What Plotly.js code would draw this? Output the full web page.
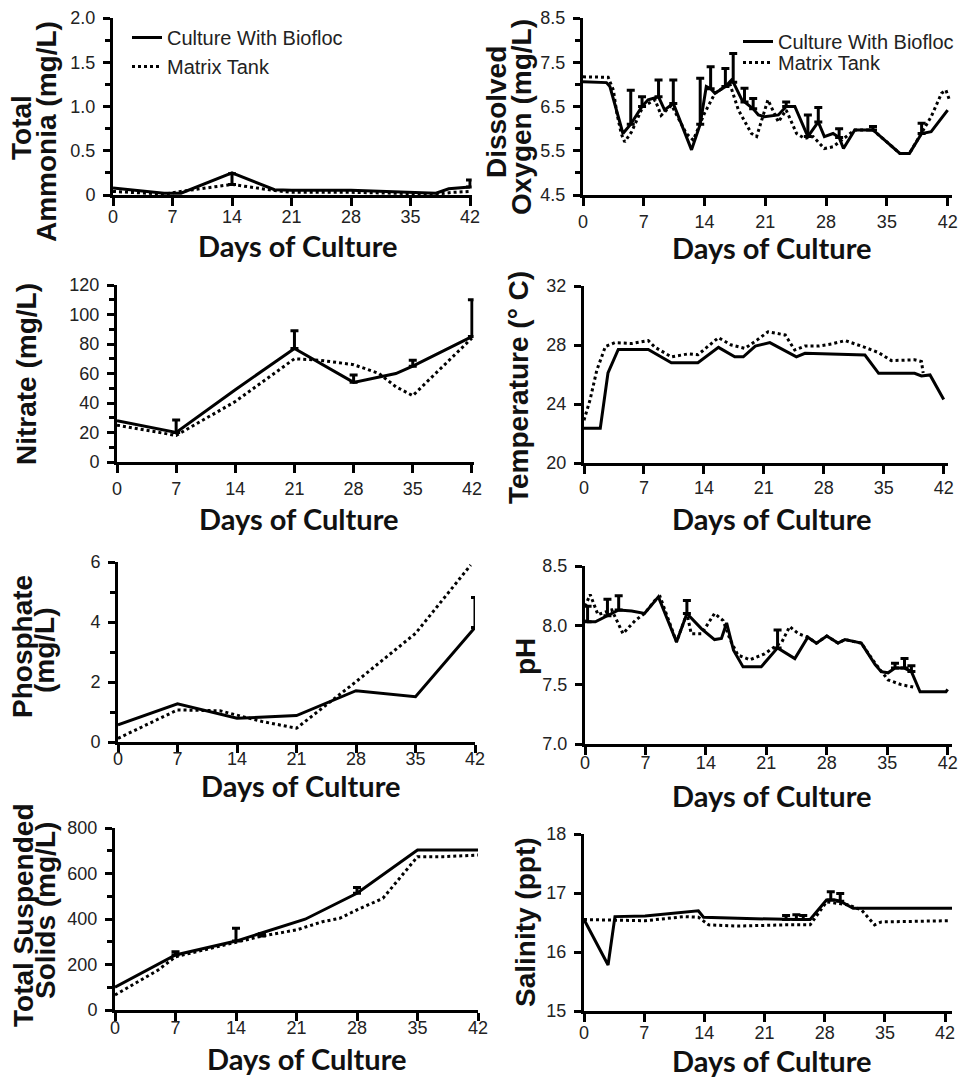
<!DOCTYPE html>
<html>
<head>
<meta charset="utf-8">
<script src="https://cdn.plot.ly/plotly-3.0.1.min.js"></script>
<style>html,body{margin:0;padding:0;background:#fff;}#chart{width:969px;height:1081px;}</style>
</head>
<body>
<div id="chart"></div>
<script>
const N = NaN;
const seriesNames = ["Culture With Biofloc", "Matrix Tank"];
const xTitle = "Days of Culture";
const dayTicks = [0, 7, 14, 21, 28, 35, 42];

// ---- Total Ammonia (mg/L)
const ammBioX = [0, 6, 8, 14, 19, 21, 28, 38, 39.5, 42];
const ammBioY = [0.08, 0.02, 0.02, 0.25, 0.06, 0.055, 0.055, 0.02, 0.07, 0.09];
const ammBioErr = [N, N, N, N, N, N, N, N, N, 0.08];
const ammMatX = [0, 6, 8, 14, 19, 21, 28, 38, 40, 42];
const ammMatY = [0.04, 0.01, 0.04, 0.12, 0.05, 0.03, 0.03, 0.01, 0.03, 0.04];
const ammMatErr = [N, N, N, 0.12, N, N, N, N, N, N];
const ammTicks = [0, 0.5, 1.0, 1.5, 2.0];
const ammTickText = ["0", "0.5", "1.0", "1.5", "2.0"];

// ---- Dissolved Oxygen (mg/L)
const doBioX = [0, 2.7, 3.1, 4.6, 5.5, 6.4, 6.8, 7.5, 8.7, 9.4, 10.4, 12.5, 13.5, 14.2, 14.7, 15.2, 16.4, 17.1, 17.3, 18.3, 18.6, 19.6, 20.2, 20.9, 22.5, 23.4, 24.4, 25.9, 27.1, 27.8, 28.8, 29.5, 30, 31.3, 33.4, 36.5, 37.6, 39, 40.1, 42];
const doBioY = [7.06, 7.04, 6.95, 5.89, 6.1, 6.38, 6.5, 6.65, 6.72, 6.42, 6.57, 5.52, 6.1, 6.95, 6.9, 6.8, 6.95, 7.1, 7.05, 6.65, 6.6, 6.45, 6.31, 6.27, 6.31, 6.5, 6.5, 5.82, 6.15, 5.82, 5.89, 5.8, 5.55, 5.97, 5.97, 5.44, 5.44, 5.89, 5.93, 6.42];
const doBioErr = [N, N, N, N, 0.77, N, 0.22, N, 0.38, N, 0.53, N, 1.04, N, 0.5, N, 0.41, N, 0.65, N, 0.31, 0.23, N, N, N, 0.1, N, 0.49, 0.33, N, N, 0.2, N, N, 0.08, N, N, 0.23, N, N];
const doMatX = [0, 2.9, 3.5, 3.9, 4.4, 4.8, 5.6, 6.9, 8.3, 9.0, 10.2, 11.9, 12.7, 14, 15.2, 16.9, 17.9, 19.4, 20, 21.3, 22.5, 23.4, 24.6, 25.5, 26.5, 27.8, 28.8, 29.8, 31.3, 33.4, 36.5, 37.6, 39, 40.1, 41.3, 41.8, 42.2];
const doMatY = [7.17, 7.16, 6.87, 6.35, 5.89, 5.7, 5.93, 6.5, 6.65, 6.3, 6.53, 5.89, 5.74, 6.35, 6.8, 7.02, 6.42, 5.89, 5.82, 6.65, 6.15, 6.42, 5.89, 5.78, 5.82, 5.55, 5.59, 5.74, 5.97, 5.97, 5.44, 5.44, 5.89, 6.27, 6.8, 6.87, 6.65];

// ---- Nitrate (mg/L)
const nitBioX = [0, 7, 14, 21, 28, 33, 35, 42];
const nitBioY = [28, 20, 49, 77, 54, 60, 65, 85];
const nitBioErr = [N, 8.5, N, 12, 5, N, 4, 25];
const nitMatX = [0, 3, 7, 14, 21, 24, 28, 31, 33, 35, 38, 42];
const nitMatY = [25, 22, 18, 41, 70, 69, 66, 60, 51, 45, 62, 84];

// ---- Temperature (° C)
const tmpBioX = [0, 1.9, 2.8, 4.0, 7.5, 10.2, 13.3, 15.7, 17.6, 18.6, 20, 21.7, 24.8, 25.8, 32.8, 34.4, 38.6, 39.4, 40.4, 42];
const tmpBioY = [22.35, 22.35, 26.1, 27.7, 27.7, 26.8, 26.8, 27.84, 27.2, 27.2, 27.93, 28.16, 27.2, 27.44, 27.32, 26.08, 26.08, 25.9, 25.97, 24.3];
const tmpMatX = [0, 0.7, 1.5, 2.5, 3.6, 5.6, 7.5, 8.3, 10.2, 12.2, 13.3, 15.7, 17.2, 18.8, 20.3, 21.5, 23.5, 24.6, 25.8, 27.4, 28.9, 30.5, 32.8, 34.4, 35.9, 38.6, 39.4, 39.6];
const tmpMatY = [22.9, 24.27, 26.3, 27.9, 28.16, 28.1, 28.3, 27.84, 27.2, 27.4, 27.34, 28.5, 28.0, 27.77, 28.38, 28.9, 28.68, 27.66, 27.93, 27.93, 28.07, 28.3, 27.84, 27.48, 26.94, 27.0, 26.88, 26.1];

// ---- Phosphate (mg/L)
const phoBioX = [0, 7, 14, 21, 28, 35, 42];
const phoBioY = [0.57, 1.27, 0.79, 0.88, 1.71, 1.51, 3.82];
const phoBioErr = [N, N, N, N, N, N, 1.0];
const phoMatX = [0, 7, 12, 14, 17, 21, 24, 28, 35, 41.5];
const phoMatY = [0.12, 1.07, 1.04, 0.9, 0.68, 0.46, 1.12, 2.01, 3.62, 5.9];

// ---- pH
const phBioX = [0, 0.3, 1.2, 2.6, 3.9, 5.4, 6.9, 8.5, 10.6, 11.8, 13.5, 15, 15.8, 16.4, 17.2, 18.3, 20.4, 22.3, 24.3, 25.8, 26.8, 28, 29.3, 30.1, 32, 33.6, 34.3, 35.1, 35.9, 37, 37.8, 38.8, 41.8, 42];
const phBioY = [8.04, 8.03, 8.03, 8.08, 8.13, 8.12, 8.1, 8.24, 7.86, 8.1, 7.97, 7.88, 7.89, 8.02, 7.79, 7.65, 7.65, 7.81, 7.72, 7.9, 7.85, 7.91, 7.85, 7.88, 7.85, 7.67, 7.61, 7.6, 7.64, 7.64, 7.61, 7.44, 7.44, 7.46];
const phBioErr = [N, 0.13, N, 0.14, 0.12, N, N, N, N, 0.11, N, N, N, N, N, N, N, 0.15, N, N, N, N, N, N, N, N, N, N, 0.04, 0.08, 0.05, N, N, N];
const phMatX = [0, 0.6, 1.5, 3.1, 4.4, 5.8, 6.9, 8.1, 8.7, 10.6, 11.8, 12.3, 13.5, 15, 16, 16.8, 17.7, 19.1, 20.8, 22.8, 23.7, 24.7, 25.8, 26.8, 28, 29.3, 30.1, 32, 33.6, 35.1, 36.6, 38];
const phMatY = [8.16, 8.26, 8.09, 8.13, 7.93, 8.04, 8.1, 8.21, 8.24, 7.86, 8.1, 7.93, 7.93, 8.1, 8.04, 7.88, 7.75, 7.71, 7.76, 7.86, 7.99, 7.93, 7.9, 7.85, 7.91, 7.85, 7.88, 7.85, 7.68, 7.54, 7.5, 7.48];

// ---- Total Suspended Solids (mg/L)
const tssBioX = [0, 7, 14, 22, 28, 35, 42];
const tssBioY = [100, 242, 303, 399, 513, 703, 703];
const tssBioErr = [N, 14, 56, N, 26, N, N];
const tssMatX = [0, 5, 7, 14, 17, 21, 24, 26, 28, 31, 35, 38, 42];
const tssMatY = [66, 176, 234, 300, 325, 352, 388, 403, 440, 491, 674, 674, 681];
const tssMatErr = [N, N, N, N, 10, N, N, N, N, N, N, N, N];

// ---- Salinity (ppt)
const salBioX = [0, 2.8, 3.6, 7.1, 13.3, 13.9, 17.9, 22.2, 23.5, 24.7, 25.5, 26.3, 28.2, 28.7, 29.2, 29.8, 31.3, 42.8];
const salBioY = [16.55, 15.78, 16.6, 16.61, 16.7, 16.59, 16.57, 16.55, 16.55, 16.55, 16.55, 16.55, 16.88, 16.88, 16.88, 16.86, 16.74, 16.74];
const salBioErr = [N, N, N, N, N, N, N, N, 0.07, 0.08, 0.07, N, N, 0.14, N, 0.13, N, N];
const salMatX = [0, 3.6, 7.1, 11.7, 13.3, 14.5, 17.9, 23.4, 26.3, 28.2, 30.7, 32.3, 33.8, 34.6, 42.4];
const salMatY = [16.55, 16.54, 16.53, 16.6, 16.59, 16.46, 16.44, 16.46, 16.46, 16.85, 16.8, 16.71, 16.46, 16.51, 16.53];

// ---- y-axis titles (one entry per line)
const yTitles = [
  ["Total", "Ammonia (mg/L)"],
  ["Dissolved", "Oxygen (mg/L)"],
  ["Nitrate (mg/L)"],
  ["Temperature (° C)"],
  ["Phosphate", "(mg/L)"],
  ["pH"],
  ["Total Suspended", "Solids (mg/L)"],
  ["Salinity (ppt)"]
];

// ================= layout geometry (pixels) =================
const W = 969, H = 1081;
const panels = [
  {x0:113, x1:471.7, yt:18,  yb:195, xr:[0,42.2], yr:[0,2],     t0:0,   dt:0.5, mn:0.25, so:-5,  yl:[{x:22,y:128},{x:46,y:132}], xt:{x:298,y:246}},
  {x0:583, x1:952,   yt:18,  yb:195, xr:[0,42.5], yr:[4.5,8.5], t0:4.5, dt:1,   mn:0.5,  so:0,   yl:[{x:497,y:112},{x:522,y:117}], xt:{x:772,y:247}},
  {x0:117, x1:473.6, yt:285, yb:462, xr:[0,42.2], yr:[0,120],   t0:0,   dt:20,  mn:10,   so:0,   yl:[{x:27,y:374}], xt:{x:299,y:518}},
  {x0:584, x1:948,   yt:286, yb:463, xr:[0,42.5], yr:[20,32],   t0:20,  dt:4,   mn:null, so:-2,  yl:[{x:518,y:388}], xt:{x:772,y:518}},
  {x0:118, x1:475,   yt:562, yb:742, xr:[0,42],   yr:[0,6],     t0:0,   dt:2,   mn:1,    so:-10, yl:[{x:22,y:647},{x:44,y:650}], xt:{x:301,y:785}},
  {x0:585, x1:952,   yt:566, yb:744, xr:[0,42.5], yr:[7,8.5],   t0:7,   dt:0.5, mn:null, so:-8,  yl:[{x:525,y:657}], xt:{x:772,y:795}},
  {x0:115, x1:478,   yt:828, yb:1010,xr:[0,42],   yr:[0,800],   t0:0,   dt:200, mn:100,  so:-9,  yl:[{x:23,y:915},{x:45,y:911}], xt:{x:307,y:1058}},
  {x0:584, x1:952,   yt:834, yb:1011,xr:[0,42.8], yr:[15,18],   t0:15,  dt:1,   mn:null, so:-5,  yl:[{x:525,y:922}], xt:{x:772,y:1060}}
];

const tickFont = {family:"Liberation Sans, Arial, sans-serif", size:18, color:"#222"};
const legFont = {family:"Liberation Sans, Arial, sans-serif", size:20, color:"#222"};
const layout = {
  width: W, height: H, margin:{l:0,r:0,t:0,b:0},
  paper_bgcolor:"#fff", plot_bgcolor:"rgba(0,0,0,0)",
  showlegend: true,
  legend:  {x:127/W, y:1-18/H, xanchor:"left", yanchor:"top", bgcolor:"rgba(0,0,0,0)", borderwidth:0, font:legFont, traceorder:"reversed"},
  legend2: {x:738/W, y:1-22/H, xanchor:"left", yanchor:"top", bgcolor:"rgba(0,0,0,0)", borderwidth:0, font:legFont},
  legend3: {x:738/W, y:1-43/H, xanchor:"left", yanchor:"top", bgcolor:"rgba(0,0,0,0)", borderwidth:0, font:legFont},
  annotations: []
};

panels.forEach((p, i) => {
  const k = i === 0 ? "" : String(i + 1);
  const xa = {
    domain:[p.x0/W, p.x1/W], range:p.xr, anchor:"y"+k,
    tickmode:"array", tickvals:dayTicks, ticktext:dayTicks.map(String),
    ticks:"outside", ticklen:8, tickwidth:3, tickcolor:"#000",
    showline:true, linewidth:3, linecolor:"#000",
    showgrid:false, zeroline:false, tickfont:tickFont, ticklabelstandoff:p.so
  };
  const ya = {
    domain:[1-p.yb/H, 1-p.yt/H], range:p.yr, anchor:"x"+k,
    tickmode:"linear", tick0:p.t0, dtick:p.dt,
    ticks:"outside", ticklen:7, tickwidth:3, tickcolor:"#000",
    showline:true, linewidth:3, linecolor:"#000",
    showgrid:false, zeroline:false, tickfont:tickFont, ticklabelstandoff:4
  };
  if (i === 0) { ya.tickmode = "array"; ya.tickvals = ammTicks; ya.ticktext = ammTickText; }
  if (i === 1 || i === 5) ya.tickformat = ".1f";
  if (p.mn) ya.minor = {dtick:p.mn, tick0:p.t0, ticks:"outside", ticklen:5, tickwidth:3, tickcolor:"#000", showgrid:false};
  layout["xaxis"+k] = xa;
  layout["yaxis"+k] = ya;

  p.yl.forEach((pos, j) => {
    layout.annotations.push({
      xref:"paper", yref:"paper", x:pos.x/W, y:1-pos.y/H, xanchor:"center", yanchor:"middle",
      text:yTitles[i][j], textangle:-90, showarrow:false,
      font:{family:"Liberation Sans, Arial, sans-serif", size:28, color:"#111", weight:"bold"}
    });
  });
  layout.annotations.push({
    xref:"paper", yref:"paper", x:p.xt.x/W, y:1-p.xt.y/H, xanchor:"center", yanchor:"middle",
    text:xTitle, showarrow:false,
    font:{family:"Lato, sans-serif", size:29, color:"#111", weight:"bold"}
  });
});

function errObj(arr) {
  if (!arr) return {visible:false};
  return {type:"data", symmetric:false, array:arr, arrayminus:arr.map(v => isNaN(v) ? NaN : 0),
          color:"#000", thickness:3, width:4, visible:true};
}
function line(x, y, err, solid, axisIdx, legendId) {
  const k = axisIdx === 0 ? "" : String(axisIdx + 1);
  const t = {
    type:"scatter", mode:"lines", x:x, y:y,
    xaxis:"x"+k, yaxis:"y"+k,
    name: solid ? seriesNames[0] : seriesNames[1],
    line:{color:"#000", width:3, dash: solid ? "solid" : "3px,3px"},
    error_y: errObj(err), cliponaxis:true, hoverinfo:"skip",
    showlegend:false
  };
  if (legendId) { t.showlegend = true; t.legend = legendId; }
  return t;
}

const data = [
  line(ammMatX, ammMatY, ammMatErr, false, 0, "legend"),
  line(ammBioX, ammBioY, ammBioErr, true, 0, "legend"),
  line(doMatX, doMatY, null, false, 1, "legend3"),
  line(doBioX, doBioY, doBioErr, true, 1, "legend2"),
  line(nitMatX, nitMatY, null, false, 2),
  line(nitBioX, nitBioY, nitBioErr, true, 2),
  line(tmpMatX, tmpMatY, null, false, 3),
  line(tmpBioX, tmpBioY, null, true, 3),
  line(phoMatX, phoMatY, null, false, 4),
  line(phoBioX, phoBioY, phoBioErr, true, 4),
  line(phMatX, phMatY, null, false, 5),
  line(phBioX, phBioY, phBioErr, true, 5),
  line(tssMatX, tssMatY, tssMatErr, false, 6),
  line(tssBioX, tssBioY, tssBioErr, true, 6),
  line(salMatX, salMatY, null, false, 7),
  line(salBioX, salBioY, salBioErr, true, 7)
];

Plotly.newPlot("chart", data, layout, {displayModeBar:false, staticPlot:true});
</script>
</body>
</html>
